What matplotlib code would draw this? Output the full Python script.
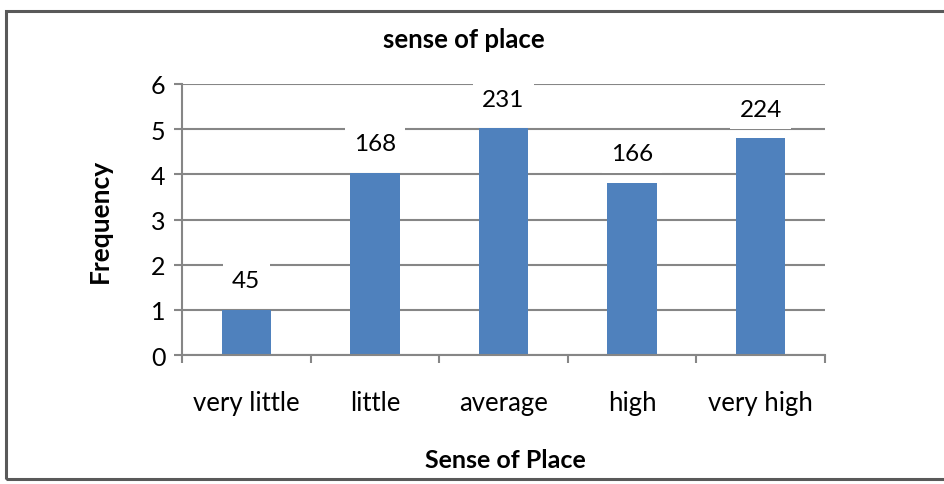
import matplotlib
matplotlib.use("Agg")
import matplotlib.pyplot as plt
from matplotlib.patches import Rectangle

categories = ["very little", "little", "average", "high", "very high"]
heights = [1.0, 4.03, 5.02, 3.81, 4.80]
labels = ["45", "168", "231", "166", "224"]
yticks = [0, 1, 2, 3, 4, 5, 6]

plt.rcParams['font.family'] = ['Lato', 'DejaVu Sans']

W, H = 944, 485
fig = plt.figure(figsize=(W / 100, H / 100), dpi=100)
fig.patch.set_facecolor('white')

# outer chart border
fig.patches.append(Rectangle((6 / W, 5 / H), (W + 10) / W, (H - 17) / H,
                             transform=fig.transFigure, fill=False,
                             edgecolor='#595959', linewidth=2.2, zorder=0))

ax = fig.add_axes([182 / W, (H - 356) / H, (825 - 182) / W, (356 - 85) / H])
x = list(range(len(categories)))
ax.bar(x, heights, width=0.385, color='#4F81BD', zorder=2)

ax.set_xlim(-0.5, len(categories) - 0.5)
ax.set_ylim(0, 6)
ax.set_yticks(yticks)
ax.set_yticklabels([str(v) for v in yticks], fontsize=18)
ax.yaxis.grid(True, color='#868686', linewidth=1.5)
ax.set_axisbelow(True)

ax.set_xticks(x)
ax.set_xticklabels(categories, fontsize=18.5)
ax.set_xticks([i - 0.5 for i in range(len(categories) + 1)], minor=True)
ax.tick_params(axis='x', which='major', length=0, pad=25)
ax.tick_params(axis='x', which='minor', length=6, width=1.5, color='#868686', direction='out')
ax.tick_params(axis='y', length=6, width=1.5, color='#868686', pad=6)

for side in ['top', 'right']:
    ax.spines[side].set_visible(False)
for side in ['left', 'bottom']:
    ax.spines[side].set_color('#868686')
    ax.spines[side].set_linewidth(1.5)

for xi, h, lab in zip(x, heights, labels):
    ax.annotate(lab, (xi, h), xytext=(0, 21), textcoords='offset points',
                ha='center', va='center', fontsize=17.5, zorder=5,
                bbox=dict(boxstyle='square,pad=0.38', facecolor='white', edgecolor='none'))

fig.text(464 / W, 1 - 40 / H, "sense of place", ha='center', va='center',
         fontsize=18.5, fontweight='bold')
fig.text(100 / W, 1 - 221 / H, "Frequency", ha='center', va='center',
         rotation=90, fontsize=19, fontweight='bold')
fig.text(505 / W, 1 - 461 / H, "Sense of Place", ha='center', va='center',
         fontsize=18, fontweight='bold')

fig.savefig("out.png", dpi=100, facecolor='white')
